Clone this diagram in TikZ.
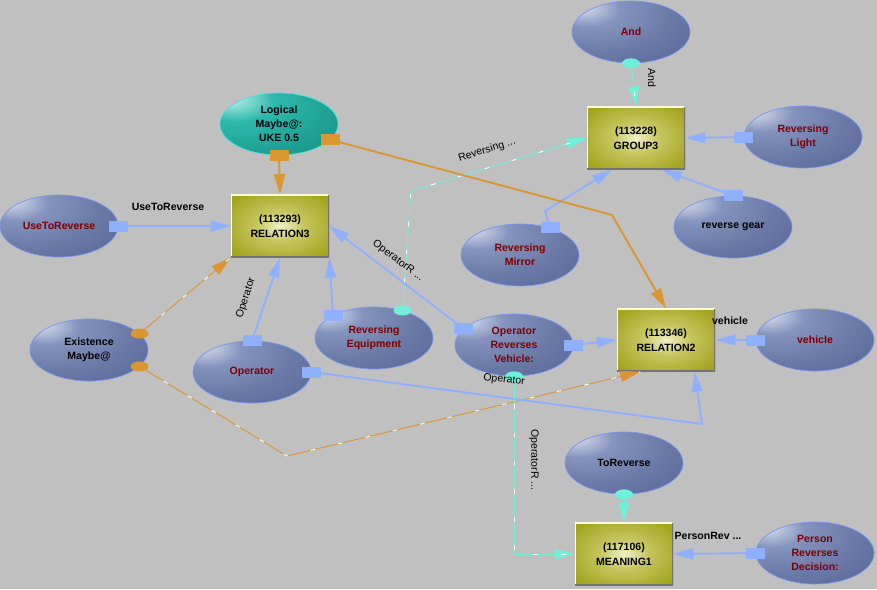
\documentclass[tikz,border=0pt]{standalone}
\usepackage{fontspec}
\setmainfont{Liberation Sans}
\usetikzlibrary{arrows.meta,shapes.geometric}
\definecolor{bgc}{RGB}{192,192,192}
\definecolor{bline}{RGB}{143,175,255}
\definecolor{orng}{RGB}{218,150,48}
\definecolor{tline}{RGB}{112,240,216}
\definecolor{dred}{RGB}{128,0,0}
\definecolor{ebord}{RGB}{120,150,235}
\definecolor{tbord}{RGB}{70,225,225}
\definecolor{ehi}{RGB}{226,231,243}
\definecolor{emid}{RGB}{133,148,190}
\definecolor{edim}{RGB}{108,123,168}
\definecolor{elo}{RGB}{84,99,147}
\definecolor{thi}{RGB}{205,245,240}
\definecolor{tmid}{RGB}{45,185,172}
\definecolor{tlo}{RGB}{18,140,128}
\definecolor{bhi}{RGB}{240,240,200}
\definecolor{bmid}{RGB}{198,198,96}
\definecolor{blo}{RGB}{163,163,30}
\pgfdeclareradialshading{ellshade}{\pgfpoint{-22bp}{22bp}}{color(0bp)=(ehi); color(14bp)=(emid); color(30bp)=(edim); color(52bp)=(elo); color(90bp)=(elo)}
\pgfdeclareradialshading{tealshade}{\pgfpoint{-22bp}{22bp}}{color(0bp)=(thi); color(16bp)=(tmid); color(52bp)=(tlo); color(90bp)=(tlo)}
\pgfdeclareradialshading{boxshade}{\pgfpoint{0bp}{0bp}}{color(0bp)=(bhi); color(12bp)=(bmid); color(32bp)=(blo); color(72bp)=(blo)}
\begin{document}
\begin{tikzpicture}[x=0.03cm,y=-0.03cm,
  ell/.style={ellipse, draw=ebord, line width=0.6pt, shading=ellshade, minimum width=3.54cm, minimum height=1.86cm, inner sep=0pt, align=center, text=dred, font=\bfseries\fontsize{9}{11.9}\selectfont},
  ellk/.style={ell, text=black},
  lgc/.style={ell, draw=tbord, shading=tealshade, text=black},
  box/.style={rectangle, shading=boxshade, minimum width=2.94cm, minimum height=1.89cm, inner sep=0pt, align=center, font=\bfseries\fontsize{9}{12.7}\selectfont,
    path picture={\draw[line width=2pt, white!85!yellow] (path picture bounding box.south west) |- (path picture bounding box.north east);
      \draw[line width=2pt, black!55] (path picture bounding box.south west) -| (path picture bounding box.north east);}},
  tip/.style={-{Triangle[length=0.6cm,width=0.33cm]}},
  bl/.style={draw=bline, line width=1.6pt, tip},
  og/.style={draw=orng, line width=1.6pt, tip},
  tl/.style={draw=tline, line width=0.8pt, tip, postaction={draw=white, -, dash pattern=on 4pt off 20pt}},
  od/.style={draw=orng, line width=0.8pt, tip, postaction={draw=white, -, dash pattern=on 4pt off 20pt}},
  sq/.style={rectangle, fill=bline, minimum width=0.57cm, minimum height=0.33cm, inner sep=0pt},
  osq/.style={sq, fill=orng},
  dot/.style={ellipse, fill=tline, minimum width=0.54cm, minimum height=0.3cm, inner sep=0pt},
  odot/.style={dot, fill=orng},
  lab/.style={inner sep=0pt, font=\fontsize{9}{11}\selectfont},
  labb/.style={lab, font=\bfseries\fontsize{9}{11}\selectfont}]
\path[use as bounding box, fill=bgc] (0,0) rectangle (877,589);
\node[ell] (a) at (631,32) {And};
\node[box] (g) at (636,138) {(113228)\\GROUP3};
\node[ell] (b) at (803,137) {Reversing\\Light};
\node[ellk] (c) at (733,227) {reverse gear};
\node[ell] (m) at (520,255) {Reversing\\Mirror};
\node[lgc] (l) at (279,124) {Logical\\Maybe@:\\UKE 0.5};
\node[box] (r) at (280,226) {(113293)\\RELATION3};
\node[ell] (u) at (59,226) {UseToReverse};
\node[ellk] (x) at (89,350) {Existence\\Maybe@};
\node[ell] (o) at (252,372) {Operator};
\node[ell] (e) at (374,338) {Reversing\\Equipment};
\node[ell] (v) at (514,345) {Operator\\Reverses\\Vehicle:};
\node[box] (s) at (666,340) {(113346)\\RELATION2};
\node[ell] (h) at (815,340) {vehicle};
\node[ellk] (t) at (624,463) {ToReverse};
\node[box] (n) at (624,554) {(117106)\\MEANING1};
\node[ell] (p) at (815,553) {Person\\Reverses\\Decision:};
\draw[tl] (a.south) node[dot]{} -- (g.north);
\draw[bl] (b.west) node[sq]{} -- (g.east);
\draw[bl] (c.north) node[sq]{} -- (g.-51);
\draw[bl] (m.42) node[sq]{} -- (545,211) -- (g.-127);
\draw[tl] (e.44) node[dot]{} -- (411,191) -- (g.west);
\draw[og] (l.south) node[osq]{} -- (r.north);
\draw[og] (l.-17) node[osq]{} -- (612,215) -- (s.north);
\draw[bl] (u.east) node[sq]{} -- (r.west);
\draw[od] (x.18) node[odot]{} -- (r.south west);
\draw[od] (x.-18) node[odot]{} -- (287,456) -- (s.231);
\draw[bl] (o.north) node[sq]{} -- (r.south);
\draw[bl] (e.151) node[sq]{} -- (r.south east);
\draw[bl] (v.162) node[sq]{} -- (r.east);
\draw[bl] (o.east) node[sq]{} -- (702,424) -- (s.-48);
\draw[bl] (v.east) node[sq]{} -- (s.west);
\draw[bl] (h.west) node[sq]{} -- (s.east);
\draw[tl] (v.south) node[dot]{} |- (n.west);
\draw[tl] (t.south) node[dot]{} -- (n.north);
\draw[bl] (p.west) node[sq]{} -- (n.east);
\node[lab, rotate=-90] (la) at (652,78) {And};
\node[lab, rotate=17] (lb) at (487,150) {Reversing ...};
\node[labb] (lc) at (168,207) {UseToReverse};
\node[lab, rotate=-37] (ld) at (398,261) {OperatorR ...};
\node[lab, rotate=72] (le) at (246,298) {Operator};
\node[labb] (lf) at (730,321) {vehicle};
\node[lab, rotate=-7] (lg) at (504,380) {Operator};
\node[lab, rotate=-90] (lh) at (534,460) {OperatorR ...};
\node[labb] (li) at (708,536) {PersonRev ...};
\end{tikzpicture}
\end{document}
